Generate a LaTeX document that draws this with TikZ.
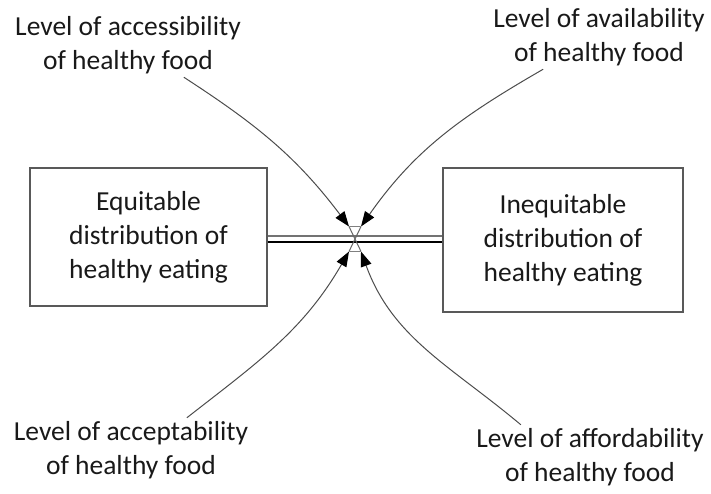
\documentclass[tikz,border=0pt]{standalone}
\usepackage{fontspec}
\setmainfont{Carlito}
\usetikzlibrary{arrows.meta}
\begin{document}
\begin{tikzpicture}[x=1pt, y=1pt, auto, line width=1pt,
  stock node/.style={rectangle,draw=black!65,line width=1.4pt,align=center,inner sep=0pt},
  label node/.style={align=center,inner sep=3pt},
  link/.style={draw=black!70,-{Triangle[length=15pt,width=11pt,color=black]}}]
\useasboundingbox (0,0) rectangle (711,493);
\begin{scope}[every node/.style={font=\fontsize{27.5}{34}\selectfont,text=black!90}]
\node [stock node,minimum width=237,minimum height=138](eq) at (148.5,256) {Equitable\\distribution of\\healthy eating};
\node [stock node,minimum width=240,minimum height=144](ineq) at (563,253) {Inequitable\\distribution of\\healthy eating};
\node [label node](access) at (128,448) {Level of accessibility\\of healthy food};
\node [label node](avail) at (599,456) {Level of availability\\of healthy food};
\node [label node](accept) at (131,43) {Level of acceptability\\of healthy food};
\node [label node](afford) at (590,36) {Level of affordability\\of healthy food};
\end{scope}
\node [minimum width=11,minimum height=24,inner sep=0pt](valve) at (355,254) {};
% pipe and valve
\draw [black!55,line width=1.2pt] ([yshift=3pt]eq.east |- valve) -- ([yshift=3pt]ineq.west |- valve);
\draw [black,line width=1.2pt] ([yshift=-3pt]eq.east |- valve) -- ([yshift=-3pt]ineq.west |- valve);
\draw [black!60] (valve.north west) -- (valve.south east) (valve.north east) -- (valve.south west);
\draw [black!50] (valve.north west) -- (valve.north east) (valve.south west) -- (valve.south east);
% links
\draw [link] (access.-30) to[out=-33,in=127] (valve.north west);
\draw [link] (avail.-150) to[out=210,in=55] (valve.north east);
\draw [link] (accept.30) to[out=38,in=240] (valve.south west);
\draw [link] (afford.155) to[out=140,in=-70] (valve.south east);
\end{tikzpicture}
\end{document}
